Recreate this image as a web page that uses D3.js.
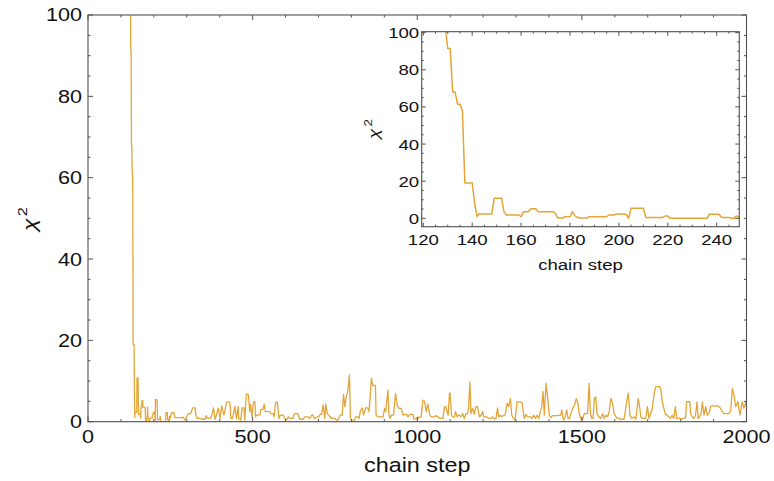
<!DOCTYPE html>
<html>
<head>
<meta charset="utf-8">
<script src="https://cdn.jsdelivr.net/npm/d3@7"></script>
<style>
  html, body { margin: 0; padding: 0; background: #fff; }
  svg { display: block; font-family: "Liberation Sans", Arial, sans-serif; }
</style>
</head>
<body>
<svg id="chart" width="774" height="481"></svg>
<script>
// MCMC trace: chain step and chi-square value at that step
const chainSteps = [
  128,129,130,131,132,133,134,135,136,137,138,139,140,141,142,143,144,148,149,152,153,154,159,160,161,163,164,166,167,173,174,175,177,178,180,181,182,183,184,187,188,195,196,198,199,202,203,204,205,210,211,218,219,220,221,236,237,241,242,245,246,247,248,249,250,
  254,261,264,285,287,295,305,312,318,325,328,332,340,346,356,359,363,371,375,381,386,396,401,406,413,421,
  426,431,434,438,441,446,451,456,458,464,468,474,476,481,486,488,491,494,498,503,507,509,512,522,525,532,535,539,552,555,562,565,570,575,580,584,593,598,603,608,613,623,625,628,638,640,643,653,658,668,674,679,684,687,691,695,701,705,709,714,719,722,727,735,740,750,755,
  759,762,766,772,776,780,784,789,794,797,801,810,813,820,823,827,833,837,843,850,853,855,861,865,873,875,881,896,901,904,911,914,918,921,928,934,939,944,951,957,962,967,972,977,987,990,995,1002,1007,1012,1017,1022,1027,1032,1038,1043,1053,1056,1063,1068,1078,1083,
  1087,1090,1094,1098,1100,1104,1108,1113,1116,1121,1125,1128,1133,1138,1143,1148,1153,1156,1160,1163,1168,1173,1178,1183,1189,1194,1199,1202,1206,1212,1216,1224,1229,1234,1239,1244,1247,1252,1256,1263,1267,1273,1278,1283,1287,1292,1297,1303,1310,1318,1322,1325,1330,1335,1344,1348,1354,1359,1364,1369,1374,1378,1382,1386,1391,1396,1401,1406,1411,
  1426,1431,1436,1439,1444,1448,1454,1458,1463,1466,1469,1473,1478,1483,1488,1492,1497,1502,1507,1517,1522,1526,1530,1534,1538,1542,1546,1552,1557,1563,1568,1573,1578,1583,1588,1593,1598,1603,1608,1613,1618,1628,1633,1636,1641,1646,1652,1659,1664,1671,1676,1679,1684,1694,1699,1704,1709,1714,1719,
  1724,1737,1741,1744,1749,1754,1759,1764,1769,1774,1779,1784,1788,1797,1802,1808,1815,1818,1828,1830,1835,1840,1845,1850,1853,1858,1862,1866,1871,1876,1881,1886,1891,1896,1911,1916,1921,1926,1931,1946,1952,1957,1962,1967,1974,1980,1987,1992,1997,2000
];
const chiSquare = [
  112,103,91.5,91.5,68,68,61.5,61.5,58,19,19,19,19,8,1,2.5,2.3,2.3,10.8,10.8,3.6,1.8,1.8,0.9,3.6,3.6,5.2,5.2,3.6,3.6,2.7,0.2,0.2,0.9,0.9,3.6,1.3,0.6,0.2,0.2,0.9,0.9,1.8,1.8,2.3,2.3,2.1,0,5.4,5.4,0.5,0.5,1.3,1.3,0,0,2.2,2.2,0.5,0.5,0,0,1.3,0.7,0.9,
  2.2,2.2,1,1,1.2,0.4,2,2,3.4,3.4,1.6,0.8,0.8,0.6,0.6,1.5,0.8,0.8,1.2,3.4,0.6,3.3,0.8,3.9,1.6,4.8,
  4.8,4.8,0.8,0.8,1.6,3.7,0.8,3.7,0.8,0.4,3.4,3.4,0.4,6.8,6.8,6.1,2.5,4.3,1.2,4.9,4.9,1.2,1.6,1.6,3.0,3.0,4.3,2.5,2.5,2,2,1.2,4.8,4.8,0.8,1.6,1.6,0.8,0.4,1.2,0.8,0.8,1.6,2,2,1.2,0.6,0.6,1.2,1.2,0.8,1.6,1.6,0.8,0.8,1.2,1.2,1.8,1.8,4.1,0.8,4.3,2,1.2,0.8,0.8,0.4,
  0.4,1,1.6,1.6,6.7,3.7,6.1,7.4,11.5,0.8,0.4,0.4,1.2,1.2,0.8,2.5,3.4,1.6,3.4,3.4,2.5,3.9,10.7,8.9,8.9,1.5,1.2,1.2,3.3,2.5,7.8,1.8,0.8,1.6,1.6,7,4.1,3.3,3.3,1.6,1.8,1.8,1.2,1.8,1.8,0.6,0.8,0.8,1.2,1.2,5.3,5.1,2.5,4.3,1.6,1.2,1.2,1.5,1.2,0.8,0.8,3.7,
  3.7,2.5,1.6,7,7,1.6,1.2,1.2,2.5,1.2,1.6,1.6,1.2,2,0.8,2,2,3.7,9.8,2,3.3,1.8,3.7,3.7,1.2,1.6,2.5,1.2,1.2,1.2,0.8,0.8,1.2,0.6,0.8,3.4,1.2,1.6,1.2,1.6,1.6,4.5,3.7,5.7,1.6,0.8,0.4,4.9,4.8,4.8,2.5,0.8,1.8,1.2,1.2,0.8,1.6,0.8,1.6,0.8,2.5,3.7,7.4,1.6,9.4,6.1,1.6,1,1.5,
  1.5,1.6,1.6,2.9,0.4,0.8,2.9,0.8,0.8,2,2.5,3.3,4.1,5.7,4.5,2,0.8,0.4,2,2,9.4,2,0.8,0.8,5.7,6.1,2,1.2,0.8,2,0.8,1.6,1.2,2.5,5.7,4.5,2,1.2,0.8,0.8,0.6,0.6,3.3,4.9,7,1.6,0.8,1.2,0.6,5.7,3.3,1.2,0.8,0.8,3.7,0.8,2,3.3,6.6,
  8.6,8.6,7.4,4.9,3.3,1.8,1.6,1.2,0.8,1.6,0.8,3.7,0.8,0.8,0.6,0.8,1,4.9,4.9,2,1.2,0.8,1.6,4.9,0.8,1.2,2,4.9,1.6,3.7,1.6,2,3.7,3.9,3.9,3.7,3.3,2.5,2,2,2.5,8.2,6.6,3.7,4.9,1.6,4.9,3.3,4.7,3.7
];

// axis ticks
const mainXTicks = [0, 500, 1000, 1500, 2000];
const mainYTicks = [0, 20, 40, 60, 80, 100];
const insetXTicks = [120, 140, 160, 180, 200, 220, 240];
const insetYTicks = [0, 20, 40, 60, 80, 100];

const xLabel = "chain step";
const lineColor = "#E4A538";
const frameColor = "#505050";
const textColor = "#111";
const sx = 1.2; // horizontal text stretch

const trace = chainSteps.map((s, i) => ({ step: s, chi2: chiSquare[i] }));
const svg = d3.select("#chart");

function framedPlot(cfg) {
  const { x, y, xTicks, yTicks, xMinor, yMinor, major, minor, fontSize, id } = cfg;
  const [x0, x1] = x.range();
  const [y0, y1] = y.range(); // y0 bottom, y1 top
  const g = svg.append("g");

  g.append("rect").attr("x", x0).attr("y", y1)
    .attr("width", x1 - x0).attr("height", y0 - y1).attr("fill", "#fff");

  svg.append("clipPath").attr("id", id).append("rect")
    .attr("x", x0).attr("y", y1).attr("width", x1 - x0).attr("height", y0 - y1);

  const line = d3.line().x(d => x(d.step)).y(d => y(d.chi2));
  g.append("path")
    .datum(cfg.data)
    .attr("clip-path", `url(#${id})`)
    .attr("fill", "none")
    .attr("stroke", lineColor)
    .attr("stroke-width", cfg.lineWidth)
    .attr("stroke-linejoin", "round")
    .attr("d", line);

  // inward ticks on all four sides
  const ticks = g.append("g").attr("stroke", frameColor).attr("stroke-width", 1);
  const xd = x.domain(), yd = y.domain();
  const xm = d3.range(Math.ceil(xd[0] / xMinor) * xMinor, xd[1] + 1e-9, xMinor);
  const ym = d3.range(Math.ceil(yd[0] / yMinor) * yMinor, yd[1] + 1e-9, yMinor);
  xm.forEach(v => {
    const len = xTicks.includes(v) ? major : minor;
    const px = x(v);
    ticks.append("line").attr("x1", px).attr("x2", px).attr("y1", y0).attr("y2", y0 - len);
    ticks.append("line").attr("x1", px).attr("x2", px).attr("y1", y1).attr("y2", y1 + len);
  });
  ym.forEach(v => {
    const len = yTicks.includes(v) ? major : minor;
    const py = y(v);
    ticks.append("line").attr("y1", py).attr("y2", py).attr("x1", x0).attr("x2", x0 + len);
    ticks.append("line").attr("y1", py).attr("y2", py).attr("x1", x1).attr("x2", x1 - len);
  });

  g.append("rect").attr("x", x0).attr("y", y1)
    .attr("width", x1 - x0).attr("height", y0 - y1)
    .attr("fill", "none").attr("stroke", frameColor).attr("stroke-width", 1.1);

  // tick labels
  xTicks.forEach(v => {
    g.append("text")
      .attr("transform", `translate(${x(v)},${y0 + cfg.xLabelOffset}) scale(${sx},1)`)
      .attr("text-anchor", "middle")
      .attr("font-size", fontSize).attr("fill", textColor)
      .text(v);
  });
  yTicks.forEach(v => {
    g.append("text")
      .attr("transform", `translate(${x0 - cfg.yLabelGap},${y(v) + fontSize * 0.36}) scale(${sx},1)`)
      .attr("text-anchor", "end")
      .attr("font-size", fontSize).attr("fill", textColor)
      .text(v);
  });

  // axis titles
  g.append("text")
    .attr("transform", `translate(${(x0 + x1) / 2},${cfg.titleY}) scale(${sx},1)`)
    .attr("text-anchor", "middle")
    .attr("font-size", cfg.titleSize).attr("fill", textColor)
    .text(xLabel);

  const chi = g.append("text")
    .attr("transform", `translate(${cfg.chiPos[0]},${cfg.chiPos[1]}) rotate(-90) scale(${sx},1)`)
    .attr("text-anchor", "middle")
    .attr("font-size", cfg.chiSize).attr("fill", textColor);
  chi.append("tspan").attr("font-style", "italic").text("χ");
  chi.append("tspan").attr("font-size", cfg.chiSize * 0.72).attr("dy", -cfg.chiSize * 0.45).attr("dx", 2).text("2");
}

// main trace over the full chain
framedPlot({
  id: "clip-main",
  data: trace,
  x: d3.scaleLinear().domain([0, 2000]).range([88, 746.5]),
  y: d3.scaleLinear().domain([0, 100]).range([421.7, 15]),
  xTicks: mainXTicks, yTicks: mainYTicks,
  xMinor: 100, yMinor: 5, major: 5, minor: 2.5,
  fontSize: 18, xLabelOffset: 21.5, yLabelGap: 6,
  titleY: 472, titleSize: 19.5,
  chiPos: [36, 219], chiSize: 19,
  lineWidth: 1.3
});

// inset: the burn-in region
framedPlot({
  id: "clip-inset",
  data: trace.filter(d => d.step >= 118 && d.step <= 252),
  x: d3.scaleLinear().domain([119.35, 249.25]).range([421.7, 739.3]),
  y: d3.scaleLinear().domain([-4.5, 100.5]).range([226.7, 31.7]),
  xTicks: insetXTicks, yTicks: insetYTicks,
  xMinor: 5, yMinor: 5, major: 4, minor: 2,
  fontSize: 15.5, xLabelOffset: 18.5, yLabelGap: 2.5,
  titleY: 270, titleSize: 15.5,
  chiPos: [379, 129], chiSize: 15.5,
  lineWidth: 1.5
});
</script>
</body>
</html>
